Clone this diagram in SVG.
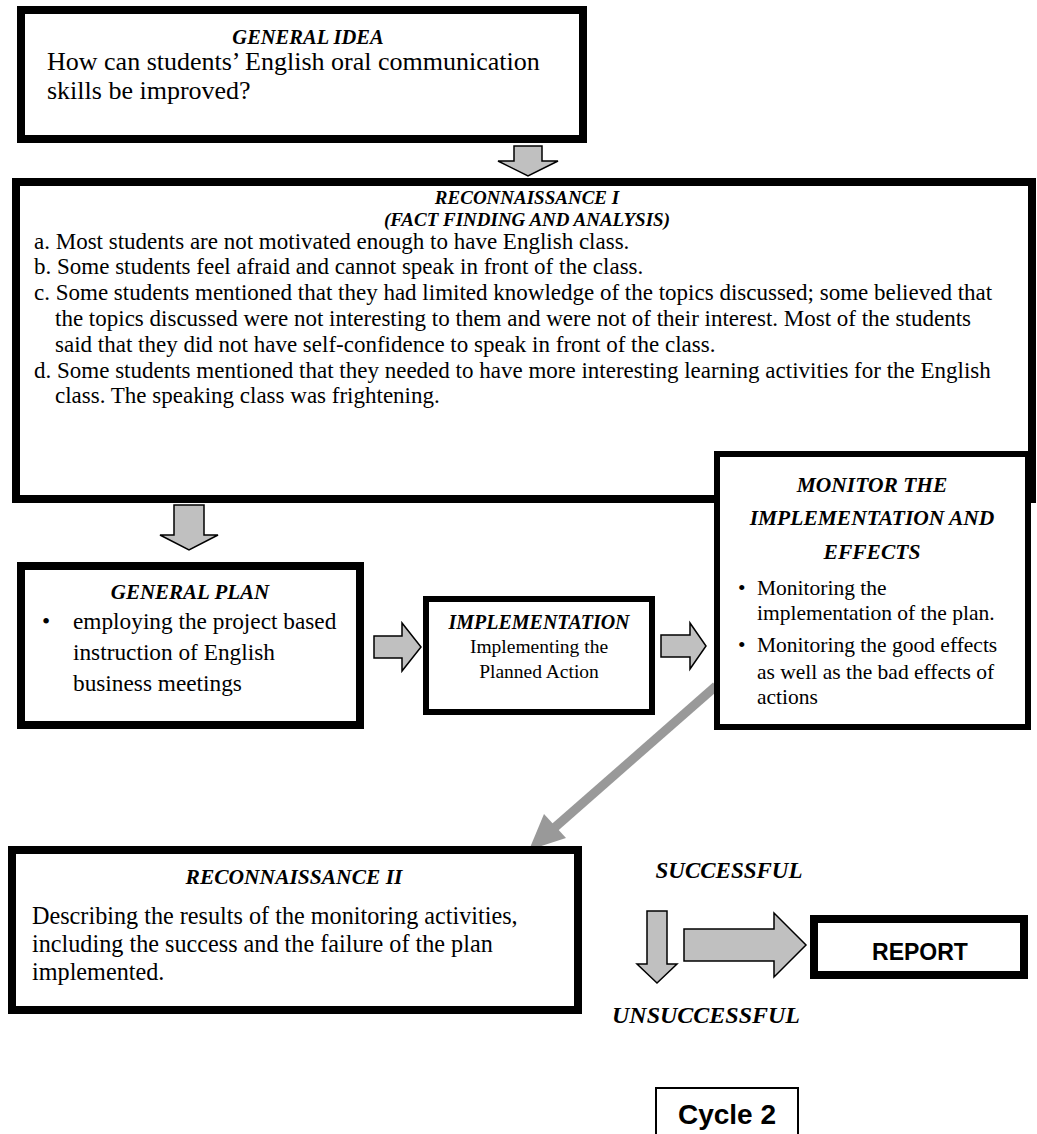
<svg xmlns="http://www.w3.org/2000/svg" width="1037" height="1134" viewBox="0 0 1037 1134">
<style>
.box{fill:#fff;stroke:#000}
.t{font-family:"Liberation Serif","Times New Roman",serif;font-weight:bold;font-style:italic;fill:#000}
.b{font-family:"Liberation Serif","Times New Roman",serif;fill:#000}
.s{font-family:"Liberation Sans",Arial,sans-serif;font-weight:bold;fill:#000}
.arr{fill:#c0c0c0;stroke:#000;stroke-width:1.5;stroke-linejoin:miter}
</style>
<rect width="1037" height="1134" fill="#fff"/>
<g id="connectors">
<polygon class="arr" points="514,146 542,146 542,161 558,161 528,176 498,161 514,161"/>
<polygon class="arr" points="174,505 204,505 204,535 218,535 189,550 160,535 174,535"/>
<polygon class="arr" points="374,636 402,636 402,623 421,647 402,671 402,658 374,658"/>
<polygon class="arr" points="661,635 690,635 690,623 706,646 690,669 690,657 661,657"/>
<line x1="716" y1="686" x2="553" y2="829" stroke="#999" stroke-width="9"/>
<polygon points="529,850 566,838 544,814" fill="#999"/>
<polygon class="arr" points="647,911 667,911 667,964 677,964 657,983 637,964 647,964"/>
<polygon class="arr" points="684,929 774,929 774,913 806,945 774,977 774,961 684,961"/>
</g>
<g id="general-idea">
<rect class="box" x="21" y="10" width="562" height="129" stroke-width="8"/>
<text class="t" x="308" y="44" font-size="20.5" text-anchor="middle">GENERAL IDEA</text>
<text class="b" x="47" y="70" font-size="26">How can students’ English oral communication</text>
<text class="b" x="47" y="99" font-size="26">skills be improved?</text>
</g>
<g id="reconnaissance-1">
<rect class="box" x="16" y="182" width="1016" height="317" stroke-width="8"/>
<text class="t" x="527" y="204" font-size="19" text-anchor="middle">RECONNAISSANCE I</text>
<text class="t" x="527" y="226" font-size="19" text-anchor="middle">(FACT FINDING AND ANALYSIS)</text>
<g class="b" font-size="23">
<text x="34" y="249">a. Most students are not motivated enough to have English class.</text>
<text x="34" y="274">b. Some students feel afraid and cannot speak in front of the class.</text>
<text x="34" y="300">c. Some students mentioned that they had limited knowledge of the topics discussed; some believed that</text>
<text x="55" y="326">the topics discussed were not interesting to them and were not of their interest. Most of the students</text>
<text x="55" y="352">said that they did not have self-confidence to speak in front of the class.</text>
<text x="34" y="378">d. Some students mentioned that they needed to have more interesting learning activities for the English</text>
<text x="55" y="403">class. The speaking class was frightening.</text>
</g>
</g>
<g id="monitor">
<rect class="box" x="717" y="454" width="311" height="273" stroke-width="6"/>
<text class="t" x="872" y="492" font-size="21.5" text-anchor="middle">MONITOR THE</text>
<text class="t" x="872" y="525" font-size="21.5" text-anchor="middle">IMPLEMENTATION AND</text>
<text class="t" x="872" y="559" font-size="21.5" text-anchor="middle">EFFECTS</text>
<g class="b" font-size="21.5">
<text x="738" y="595">•</text>
<text x="757" y="595">Monitoring the</text>
<text x="757" y="620">implementation of the plan.</text>
<text x="738" y="652">•</text>
<text x="757" y="652">Monitoring the good effects</text>
<text x="757" y="679">as well as the bad effects of</text>
<text x="757" y="704">actions</text>
</g>
</g>
<g id="general-plan">
<rect class="box" x="21" y="566" width="339" height="159" stroke-width="8"/>
<text class="t" x="190" y="599" font-size="21" text-anchor="middle">GENERAL PLAN</text>
<g class="b" font-size="23.3">
<text x="42" y="629">•</text>
<text x="73" y="629">employing the project based</text>
<text x="73" y="660">instruction of English</text>
<text x="73" y="691">business meetings</text>
</g>
</g>
<g id="implementation">
<rect class="box" x="426" y="599" width="226" height="113" stroke-width="6"/>
<text class="t" x="539" y="629" font-size="20" text-anchor="middle">IMPLEMENTATION</text>
<text class="b" x="539" y="653" font-size="19.5" text-anchor="middle">Implementing the</text>
<text class="b" x="539" y="678" font-size="19.5" text-anchor="middle">Planned Action</text>
</g>
<g id="reconnaissance-2">
<rect class="box" x="12" y="850" width="566" height="160" stroke-width="8"/>
<text class="t" x="294" y="884" font-size="21.5" text-anchor="middle">RECONNAISSANCE II</text>
<g class="b" font-size="24.2">
<text x="32" y="924">Describing the results of the monitoring activities,</text>
<text x="32" y="952">including the success and the failure of the plan</text>
<text x="32" y="980">implemented.</text>
</g>
</g>
<g id="labels">
<text class="t" x="729" y="878" font-size="23" text-anchor="middle">SUCCESSFUL</text>
<text class="t" x="706" y="1023" font-size="24" text-anchor="middle">UNSUCCESSFUL</text>
</g>
<g id="report">
<rect class="box" x="814" y="919" width="210" height="56" stroke-width="8"/>
<text class="s" x="920" y="960" font-size="23" text-anchor="middle">REPORT</text>
</g>
<g id="cycle-2">
<rect class="box" x="656" y="1088" width="142" height="60" stroke-width="2"/>
<text class="s" x="727" y="1124" font-size="28" text-anchor="middle">Cycle 2</text>
</g>
</svg>
